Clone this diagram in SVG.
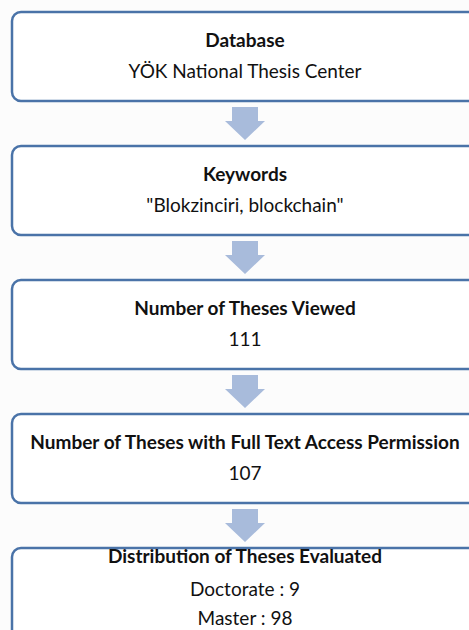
<svg xmlns="http://www.w3.org/2000/svg" width="469" height="630" viewBox="0 0 469 630">
<style>
.box{fill:#ffffff;stroke:#4a73a8;stroke-width:2.5}
.arr{fill:#a8bbdb}
text{font-family:Lato,"Open Sans","Liberation Sans",sans-serif;font-size:19px;fill:#111;text-anchor:middle}
.b{font-weight:bold}
</style>
<rect width="469" height="630" fill="#fcfcfc"/>
<g id="connectors">
<path class="arr" d="M232,107H258V121H265L245,140L225,121H232Z"/>
<path class="arr" d="M232,241H258V255H265L245,274L225,255H232Z"/>
<path class="arr" d="M232,375H258V389H265L245,408L225,389H232Z"/>
<path class="arr" d="M232,509H258V523H265L245,542L225,523H232Z"/>
</g>
<g id="n1">
<rect class="box" x="12" y="12" width="470" height="89" rx="9"/>
<text class="b" x="245" y="47">Database</text>
<text x="245" y="78">YÖK National Thesis Center</text>
</g>
<g id="n2">
<rect class="box" x="12" y="146" width="470" height="89" rx="9"/>
<text class="b" x="245" y="181">Keywords</text>
<text x="245" y="212">"Blokzinciri, blockchain"</text>
</g>
<g id="n3">
<rect class="box" x="12" y="280" width="470" height="89" rx="9"/>
<text class="b" x="245" y="315">Number of Theses Viewed</text>
<text x="245" y="346">111</text>
</g>
<g id="n4">
<rect class="box" x="12" y="414" width="470" height="89" rx="9"/>
<text class="b" x="245" y="449">Number of Theses with Full Text Access Permission</text>
<text x="245" y="480">107</text>
</g>
<g id="n5">
<rect class="box" x="12" y="548" width="470" height="100" rx="9"/>
<text class="b" x="245" y="563">Distribution of Theses Evaluated</text>
<text x="245" y="596">Doctorate : 9</text>
<text x="245" y="625">Master : 98</text>
</g>
</svg>
